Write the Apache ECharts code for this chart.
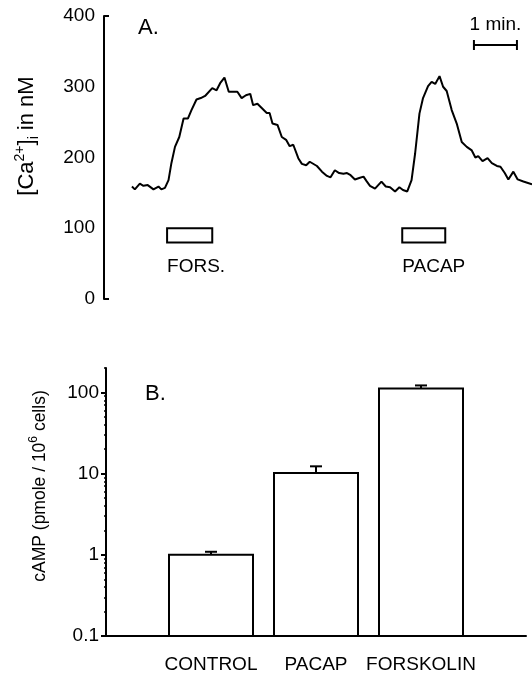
<!DOCTYPE html>
<html>
<head>
<meta charset="utf-8">
<script src="https://cdn.jsdelivr.net/npm/echarts@6/dist/echarts.min.js"></script>
<style>
html, body { margin: 0; padding: 0; background: #fff; }
#chart { width: 532px; height: 679px; }
</style>
</head>
<body>
<div id="chart"></div>
<script>
// panel A: calcium trace (time in seconds, [Ca2+]i in nM)
var timeSec = [0,4,11,16,22,30,37,41,46,51,55,60,66,72,78,83,90,96,102,112,
  118,123,129,135,147,153,159,165,169,175,181,188,192,196,203,209,215,220,225,232,
  237,243,248,258,265,272,277,283,289,295,300,305,311,317,323,327,332,339,348,354,
  360,367,373,378,384,390,395,401,406,413,418,423,429,434,439,446,453,460,467,474,
  479,483,489,496,502,509,514,520,525,532,538,546,558];
var caNM = [159,155,163,160,161,155,159,155,157,168,192,215,229,255,255,267,282,284,287,298,
  295,305,313,293,293,284,288,290,274,276,270,263,263,248,246,229,225,216,218,199,
  191,189,194,188,180,174,172,182,178,177,178,175,169,171,173,167,160,156,166,159,
  158,152,158,154,152,168,206,262,284,301,307,304,315,300,294,267,248,222,215,210,
  200,202,195,199,192,188,187,178,169,180,169,166,162];
var caTicks = [0, 100, 200, 300, 400];

// stimulus applications
var stimNames = ['FORS.', 'PACAP'];
var stimStart = [49, 377];
var stimEnd = [112, 437];
var stimTop = 100, stimBottom = 80, stimLabelLevel = 46;

// scale bar: 1 min
var scaleStart = 477, scaleEnd = 537, scaleLevel = 359, scaleLabelLevel = 387;

// panel B: cAMP
var categories = ['CONTROL', 'PACAP', 'FORSKOLIN'];
var campMean = [1.0, 10.2, 112];
var campErrTop = [1.09, 12.3, 122];
var campMajor = [0.1, 1, 10, 100];
var campMinor = [0.2,0.3,0.4,0.5,0.6,0.7,0.8,0.9, 2,3,4,5,6,7,8,9,
  20,30,40,50,60,70,80,90, 200];

var FONT = '"Liberation Sans", Arial, Helvetica, sans-serif';

var chart = echarts.init(document.getElementById('chart'));

var traceData = timeSec.map(function (t, i) { return [t, caNM[i]]; });
var stimData = stimStart.map(function (s, i) { return [s, stimEnd[i], stimTop, stimBottom]; });
var catAxis = [''].concat(categories, ['']);
var barData = categories.map(function (c, i) { return [c, campMean[i], campErrTop[i]]; });

function renderStim(params, api) {
  var p0 = api.coord([api.value(0), api.value(2)]);
  var p1 = api.coord([api.value(1), api.value(3)]);
  var lab = api.coord([api.value(0), stimLabelLevel]);
  return {
    type: 'group',
    children: [{
      type: 'rect',
      shape: { x: p0[0], y: p0[1], width: p1[0] - p0[0], height: p1[1] - p0[1] },
      style: { fill: '#fff', stroke: '#000', lineWidth: 2 }
    }, {
      type: 'text',
      x: lab[0], y: lab[1],
      style: { text: stimNames[params.dataIndex], fill: '#000', fontSize: 19, fontFamily: FONT,
        align: 'left', verticalAlign: 'middle' }
    }]
  };
}

function renderScale(params, api) {
  var a = api.coord([api.value(0), api.value(2)]);
  var b = api.coord([api.value(1), api.value(2)]);
  var t = api.coord([(api.value(0) + api.value(1)) / 2, scaleLabelLevel]);
  var ln = { stroke: '#000', lineWidth: 2 };
  return {
    type: 'group',
    children: [
      { type: 'line', shape: { x1: a[0], y1: a[1], x2: b[0], y2: b[1] }, style: ln },
      { type: 'line', shape: { x1: a[0], y1: a[1] - 5, x2: a[0], y2: a[1] + 5 }, style: ln },
      { type: 'line', shape: { x1: b[0], y1: b[1] - 5, x2: b[0], y2: b[1] + 5 }, style: ln },
      { type: 'text', x: t[0], y: t[1],
        style: { text: '1 min.', fill: '#000', fontSize: 19, fontFamily: FONT,
          align: 'center', verticalAlign: 'middle' } }
    ]
  };
}

function renderBar(params, api) {
  var x = api.value(0);
  var top = api.coord([x, api.value(1)]);
  var base = api.coord([x, campMajor[0]]);
  var err = api.coord([x, api.value(2)]);
  var w = api.size([1, 1])[0] * 0.8;
  var ln = { stroke: '#000', lineWidth: 2 };
  return {
    type: 'group',
    children: [
      { type: 'line', shape: { x1: top[0], y1: top[1], x2: top[0], y2: err[1] }, style: ln },
      { type: 'line', shape: { x1: top[0] - 6, y1: err[1], x2: top[0] + 6, y2: err[1] }, style: ln },
      { type: 'rect', shape: { x: top[0] - w / 2, y: top[1], width: w, height: base[1] - top[1] },
        style: { fill: '#fff', stroke: '#000', lineWidth: 2 } }
    ]
  };
}

var option = {
  animation: false,
  backgroundColor: '#fff',
  textStyle: { fontFamily: FONT, color: '#000' },
  grid: [
    { left: 104, right: 0, top: 16, bottom: 380 },
    { left: 106, right: 6, top: 368, bottom: 43 }
  ],
  xAxis: [{
    gridIndex: 0, type: 'value', min: -39, max: 558, show: false
  }, {
    gridIndex: 1, type: 'category', data: catAxis, boundaryGap: false,
    axisLine: { lineStyle: { color: '#000', width: 2 } },
    axisTick: { show: false },
    axisLabel: { interval: 0, color: '#000', fontSize: 19, fontFamily: FONT, margin: 19 }
  }],
  yAxis: [{
    gridIndex: 0, type: 'value', min: 0, max: 400, interval: 100, position: 'left',
    axisLine: { show: true, onZero: false, lineStyle: { color: '#000', width: 2 } },
    axisTick: { show: true, inside: true, length: 5, customValues: [caTicks[0], caTicks[caTicks.length - 1]],
      lineStyle: { color: '#000', width: 2 } },
    axisLabel: { color: '#000', fontSize: 19, fontFamily: FONT, margin: 9 },
    splitLine: { show: false }
  }, {
    gridIndex: 1, type: 'log', logBase: 10, min: 0.1, max: 200, position: 'left',
    axisLine: { show: true, onZero: false, lineStyle: { color: '#000', width: 2 } },
    axisTick: { show: true, length: 2, customValues: campMinor, lineStyle: { color: '#000', width: 1.5 } },
    axisLabel: { color: '#000', fontSize: 19, fontFamily: FONT, margin: 7, customValues: campMajor,
      formatter: function (v) { return String(v); } },
    splitLine: { show: false }
  }, {
    gridIndex: 1, type: 'log', logBase: 10, min: 0.1, max: 200, position: 'left', offset: 0,
    axisLine: { show: false, onZero: false },
    axisTick: { show: true, length: 5, customValues: campMajor, lineStyle: { color: '#000', width: 2 } },
    axisLabel: { show: false },
    splitLine: { show: false }
  }],
  graphic: [
    { type: 'text', x: 138, y: 28, style: { text: 'A.', fill: '#000', fontSize: 22, fontFamily: FONT, align: 'left', verticalAlign: 'middle' } },
    { type: 'text', x: 145, y: 394, style: { text: 'B.', fill: '#000', fontSize: 22, fontFamily: FONT, align: 'left', verticalAlign: 'middle' } },
    { type: 'text', x: 27, y: 136, rotation: Math.PI / 2,
      style: { text: '[Ca{sup|2+}]{sub|i} in nM', fill: '#000', fontSize: 22, fontFamily: FONT,
        align: 'center', verticalAlign: 'middle', lineHeight: 28,
        rich: {
          sup: { fontSize: 14, fontFamily: FONT, verticalAlign: 'top', lineHeight: 28 },
          sub: { fontSize: 14, fontFamily: FONT, verticalAlign: 'bottom', lineHeight: 28 }
        } } },
    { type: 'text', x: 40, y: 486, rotation: Math.PI / 2,
      style: { text: 'cAMP (pmole / 10{sup|6} cells)', fill: '#000', fontSize: 17.5, fontFamily: FONT,
        align: 'center', verticalAlign: 'middle', lineHeight: 24,
        rich: {
          sup: { fontSize: 12, fontFamily: FONT, verticalAlign: 'top', lineHeight: 24 }
        } } }
  ],
  series: [{
    name: 'trace', type: 'line', xAxisIndex: 0, yAxisIndex: 0,
    data: traceData, showSymbol: false, symbol: 'none',
    lineStyle: { color: '#000', width: 2 }
  }, {
    name: 'stimulus', type: 'custom', xAxisIndex: 0, yAxisIndex: 0,
    data: stimData, encode: { x: [0, 1], y: [2, 3] }, renderItem: renderStim
  }, {
    name: 'scale', type: 'custom', xAxisIndex: 0, yAxisIndex: 0,
    data: [[scaleStart, scaleEnd, scaleLevel]], encode: { x: [0, 1], y: 2 }, renderItem: renderScale
  }, {
    name: 'cAMP', type: 'custom', xAxisIndex: 1, yAxisIndex: 1,
    data: barData, encode: { x: 0, y: [1, 2] }, renderItem: renderBar
  }]
};

chart.setOption(option);
</script>
</body>
</html>
